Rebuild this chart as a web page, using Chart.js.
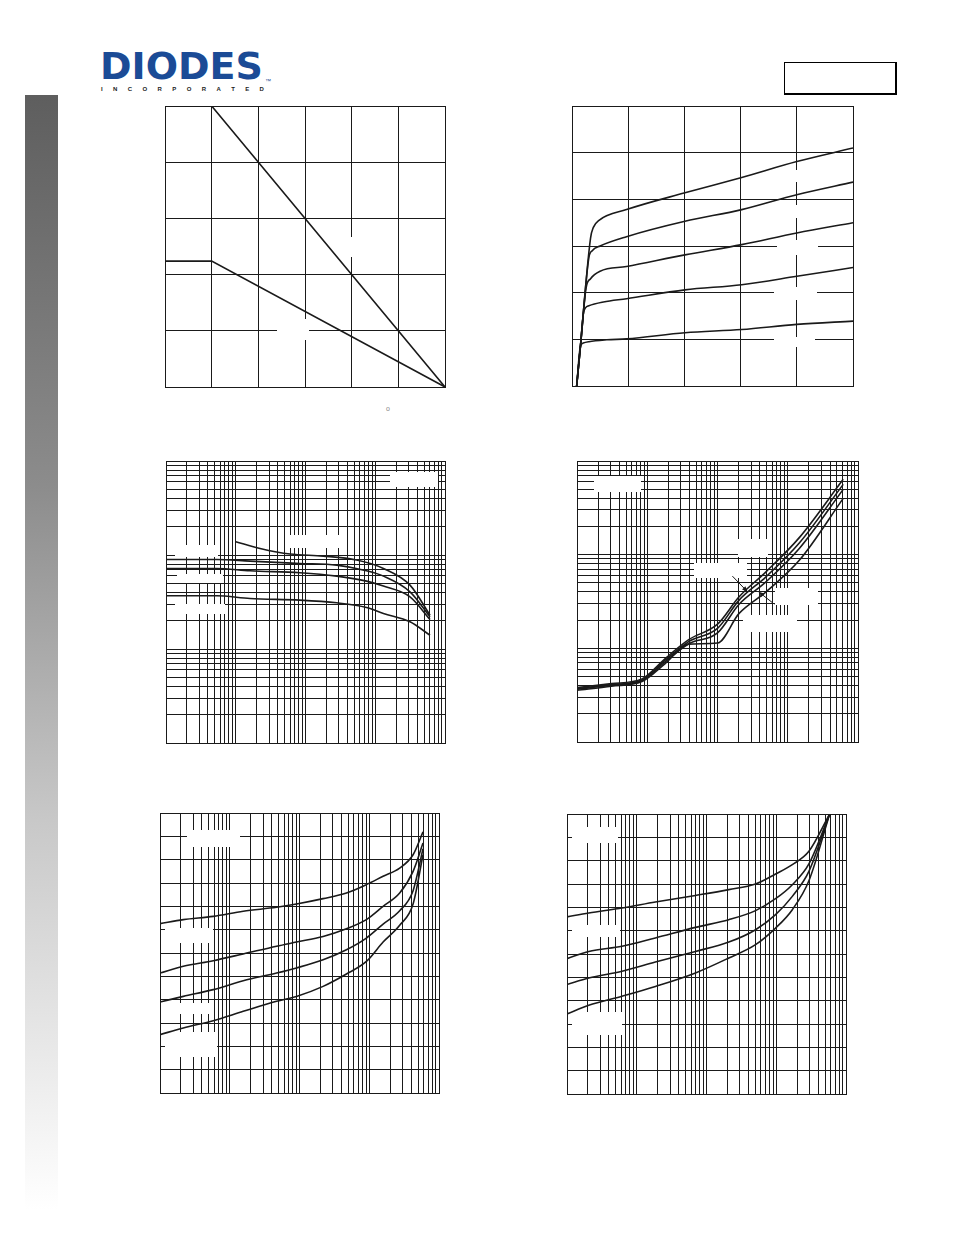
<!DOCTYPE html>
<html>
<head>
<meta charset="utf-8">
<title>Typical characteristics</title>
<script src="https://cdn.jsdelivr.net/npm/chart.js@4.4.0/dist/chart.umd.min.js"></script>
<style>
  body{margin:0;background:#fff;width:954px;height:1235px;position:relative;overflow:hidden;font-family:"Liberation Sans",Arial,sans-serif}
  .bar{position:absolute;left:25px;top:95px;width:33px;height:1115px;background:linear-gradient(#5e5e5e,#8c8c8c 35%,#c8c8c8 65%,#fff)}
  .logo{position:absolute;left:100px;top:47px;font-family:"DejaVu Sans",sans-serif;font-size:38px;line-height:38px;font-weight:bold;color:#1b4b96;letter-spacing:0}
  .tm{position:absolute;left:265px;top:78px;font-size:6px;color:#1b4b96}
  .inc{position:absolute;left:101px;top:86px;width:163px;display:flex;justify-content:space-between;font-size:6px;font-weight:bold;color:#222}
  .box{position:absolute;left:784px;top:62px;width:110px;height:30px;border:1px solid #000;border-right-width:2px;border-bottom-width:2px}
  .deg{position:absolute;left:386px;top:405px;font-size:7px;color:#888}
  .plot{position:absolute}
</style>
</head>
<body>
<div class="bar"></div>
<div class="logo">DIODES</div>
<div class="tm">™</div>
<div class="inc"><span>I</span><span>N</span><span>C</span><span>O</span><span>R</span><span>P</span><span>O</span><span>R</span><span>A</span><span>T</span><span>E</span><span>D</span></div>
<div class="box"></div>
<div class="deg">o</div>

<div class="plot" id="p1"><canvas id="c1"></canvas></div>
<div class="plot" id="p2"><canvas id="c2"></canvas></div>
<div class="plot" id="p3"><canvas id="c3"></canvas></div>
<div class="plot" id="p4"><canvas id="c4"></canvas></div>
<div class="plot" id="p5"><canvas id="c5"></canvas></div>
<div class="plot" id="p6"><canvas id="c6"></canvas></div>

<script>
// ---- chart 1: derating (linear) ----
const c1X = [0, 25, 150];
const c1A = [250, 250, 0];
const c1B = [112, 112, 0];

// ---- chart 2: output characteristics (linear) ----
const c2X1 = [0.083, 0.15, 0.33, 0.38, 0.48, 0.97, 2.01, 3.02, 4.0, 5.0];
const c2Y1 = [0, 0.85, 3.17, 3.4, 3.55, 3.78, 4.14, 4.47, 4.81, 5.1];
const c2X2 = [0.083, 0.15, 0.3, 0.36, 0.5, 0.97, 2.01, 3.02, 4.0, 5.0];
const c2Y2 = [0, 0.85, 2.75, 2.9, 3.0, 3.2, 3.53, 3.78, 4.1, 4.37];
const c2X3 = [0.083, 0.15, 0.25, 0.33, 0.5, 0.97, 2.01, 3.02, 4.0, 5.0];
const c2Y3 = [0, 0.85, 2.1, 2.3, 2.46, 2.56, 2.81, 3.03, 3.28, 3.5];
const c2X4 = [0.083, 0.15, 0.21, 0.3, 0.56, 0.97, 2.01, 3.02, 4.0, 5.0];
const c2Y4 = [0, 0.85, 1.6, 1.72, 1.8, 1.87, 2.06, 2.17, 2.35, 2.54];
const c2X5 = [0.083, 0.15, 0.2, 0.3, 0.62, 0.97, 2.01, 3.02, 4.0, 5.0];
const c2Y5 = [0, 0.85, 0.92, 0.95, 0.99, 1.01, 1.14, 1.21, 1.32, 1.39];

// ---- chart 3: gain vs current (log-log) ----
const c3XA = [1.0, 2.23, 6.0, 18, 54, 131, 315, 610];
const c3YA = [1384, 1175, 1023, 973, 883, 719, 478, 229];
const c3X = [0.1, 0.53, 1.6, 8.3, 28, 75, 131, 315, 610];
const c3YB = [897, 897, 861, 813, 780, 679, 596, 406, 220];
const c3YC = [719, 719, 679, 647, 596, 527, 467, 359, 206];
const c3YD = [368, 368, 344, 331, 310, 277, 239, 195, 140];

// ---- chart 4: saturation voltage vs current (log-log) ----
const c4X = [0.1, 0.31, 0.84, 1.8, 3.9, 10, 20.3, 49, 147, 616];
const c4Y1 = [3.81, 4.20, 4.72, 7.78, 12.4, 18.1, 35.5, 65.6, 153, 637];
const c4Y2 = [3.72, 4.10, 4.60, 7.47, 11.8, 16.3, 32.7, 58.0, 134, 563];
const c4Y3 = [3.66, 4.03, 4.53, 7.16, 11.2, 14.6, 29.6, 51.3, 117, 498];
const c4Y4 = [3.57, 3.94, 4.42, 6.88, 11.1, 11.4, 23.6, 40.1, 87.5, 399];
const c4Arrows = [[16.3, 59, 26.8, 40.1], [64.6, 29.6, 38.5, 40.1]];

// ---- chart 5: base-emitter voltage vs current (log x, linear y) ----
const c5X = [0.1, 0.216, 0.58, 1.56, 4.69, 9.06, 21.8, 47.1, 91, 158, 273, 425, 590];
const c5Y1 = [0.726, 0.743, 0.757, 0.779, 0.796, 0.810, 0.833, 0.857, 0.893, 0.929, 0.964, 1.021, 1.119];
const c5Y2 = [0.514, 0.543, 0.567, 0.596, 0.629, 0.647, 0.671, 0.704, 0.743, 0.800, 0.857, 0.950, 1.071];
const c5Y3 = [0.390, 0.414, 0.443, 0.481, 0.514, 0.536, 0.571, 0.614, 0.664, 0.724, 0.781, 0.867, 1.047];
const c5Y4 = [0.250, 0.279, 0.310, 0.350, 0.393, 0.414, 0.457, 0.510, 0.564, 0.647, 0.719, 0.810, 1.021];

// ---- chart 6: base-emitter voltage vs current (log x, linear y) ----
const c6X = [0.1, 0.205, 0.615, 1.85, 6.95, 20.9, 50.5, 97.8, 170, 294, 583];
const c6Y1 = [0.759, 0.776, 0.797, 0.823, 0.851, 0.876, 0.900, 0.943, 0.983, 1.040, 1.2];
const c6Y2 = [0.580, 0.611, 0.633, 0.669, 0.714, 0.747, 0.786, 0.837, 0.897, 0.986, 1.2];
const c6Y3 = [0.469, 0.497, 0.526, 0.566, 0.611, 0.651, 0.704, 0.769, 0.847, 0.954, 1.2];
const c6Y4 = [0.343, 0.380, 0.419, 0.461, 0.519, 0.583, 0.640, 0.711, 0.790, 0.914, 1.2];

// log grid decades
const decX = [0.1, 1, 10, 100, 1000];
const decY3 = [10, 100, 1000, 10000];
const decY4 = [1, 10, 100, 1000];

const INK = '#1a1a1a';
const PAD = 4;

// blank label panels over the grid (offset from plot corner, px): [dx, dy, w, h]
const blanks = {
  1: [[175, 131, 25, 20], [112, 213, 32, 21]],
  2: [[213, 64, 25, 12], [213, 99, 25, 13], [205, 134, 41, 15], [202, 181, 43, 13], [202, 231, 41, 10]],
  3: [[224, 11, 48, 15], [124, 74, 50, 13], [9, 84, 43, 12], [11, 113, 46, 9], [9, 143, 50, 10]],
  4: [[17, 15, 47, 16], [161, 78, 30, 18], [117, 102, 53, 15], [198, 127, 43, 17], [166, 154, 54, 17]],
  5: [[27, 17, 53, 17], [5, 115, 48, 15], [5, 190, 47, 11], [5, 219, 52, 25]],
  6: [[5, 13, 46, 16], [5, 111, 48, 12], [5, 198, 50, 23]]
};

function logTicks(decades){
  const t = [];
  decades.forEach((d, i) => {
    if(i === decades.length - 1){ t.push(d); return; }
    for(let k = 1; k < 10; k++) t.push(+(d * k).toPrecision(6));
  });
  return t;
}

function pts(xs, ys){ return xs.map((x, i) => ({x, y: ys[i]})); }

function linAxis(min, max, step){
  return { type:'linear', min, max, ticks:{display:false, stepSize:step},
    grid:{color:INK, lineWidth:1, drawTicks:false}, border:{color:INK, width:1} };
}
function logAxis(min, max, decades){
  const list = logTicks(decades);
  return { type:'logarithmic', min, max, ticks:{display:false},
    afterBuildTicks: s => { s.ticks = list.map(v => ({value:v})); },
    grid:{color:INK, lineWidth:1, drawTicks:false}, border:{color:INK, width:1} };
}

function curve(data, smooth){
  return { data, showLine:true, borderColor:INK, borderWidth:1.6, pointRadius:0,
    fill:false, tension:0, cubicInterpolationMode: smooth ? 'monotone' : 'default' };
}

const blankPlugin = {
  id:'blanks',
  beforeDatasetsDraw(chart, args, opts){
    if(!opts.list) return;
    const {ctx, chartArea:a} = chart;
    ctx.save();
    ctx.fillStyle = '#fff';
    opts.list.forEach(b => ctx.fillRect(a.left + b[0], a.top + b[1], b[2], b[3]));
    ctx.restore();
  }
};

// small arrows drawn in data units
const arrowPlugin = {
  id:'arrows',
  afterDatasetsDraw(chart, args, opts){
    if(!opts.list) return;
    const {ctx, scales:{x, y}} = chart;
    ctx.save();
    ctx.strokeStyle = INK; ctx.fillStyle = INK; ctx.lineWidth = 1;
    opts.list.forEach(a => {
      const x0 = x.getPixelForValue(a[0]), y0 = y.getPixelForValue(a[1]);
      const x1 = x.getPixelForValue(a[2]), y1 = y.getPixelForValue(a[3]);
      ctx.beginPath(); ctx.moveTo(x0, y0); ctx.lineTo(x1, y1); ctx.stroke();
      const ang = Math.atan2(y1 - y0, x1 - x0), L = 6;
      ctx.beginPath();
      ctx.moveTo(x1, y1);
      ctx.lineTo(x1 - L*Math.cos(ang - 0.4), y1 - L*Math.sin(ang - 0.4));
      ctx.lineTo(x1 - L*Math.cos(ang + 0.4), y1 - L*Math.sin(ang + 0.4));
      ctx.closePath(); ctx.fill();
    });
    ctx.restore();
  }
};
Chart.register(blankPlugin, arrowPlugin);

function make(id, box, scales, datasets, extra){
  const p = document.getElementById('p' + id);
  p.style.left = (box[0] - PAD) + 'px';
  p.style.top = (box[1] - PAD) + 'px';
  p.style.width = (box[2] - box[0] + 2*PAD) + 'px';
  p.style.height = (box[3] - box[1] + 2*PAD) + 'px';
  new Chart(document.getElementById('c' + id), {
    type:'scatter',
    data:{ datasets },
    options:{
      responsive:true, maintainAspectRatio:false, animation:false,
      layout:{ padding:PAD },
      scales,
      plugins:Object.assign({ legend:{display:false}, tooltip:{enabled:false}, blanks:{ list:blanks[id] } }, extra || {})
    }
  });
}

make(1, [165, 106, 445, 387],
  { x: linAxis(0, 150, 25), y: linAxis(0, 250, 50) },
  [curve(pts(c1X, c1A)), curve(pts(c1X, c1B))]);

make(2, [572, 106, 853, 386],
  { x: linAxis(0, 5, 1), y: linAxis(0, 6, 1) },
  [curve(pts(c2X1, c2Y1), true), curve(pts(c2X2, c2Y2), true), curve(pts(c2X3, c2Y3), true),
   curve(pts(c2X4, c2Y4), true), curve(pts(c2X5, c2Y5), true)]);

make(3, [166, 461, 445, 743],
  { x: logAxis(0.1, 1000, decX), y: logAxis(10, 10000, decY3) },
  [curve(pts(c3XA, c3YA), true), curve(pts(c3X, c3YB), true),
   curve(pts(c3X, c3YC), true), curve(pts(c3X, c3YD), true)]);

make(4, [577, 461, 858, 742],
  { x: logAxis(0.1, 1000, decX), y: logAxis(1, 1000, decY4) },
  [curve(pts(c4X, c4Y1), true), curve(pts(c4X, c4Y2), true),
   curve(pts(c4X, c4Y3), true), curve(pts(c4X, c4Y4), true)],
  { arrows:{ list:c4Arrows } });

make(5, [160, 813, 439, 1093],
  { x: logAxis(0.1, 1000, decX), y: linAxis(0, 1.2, 0.1) },
  [curve(pts(c5X, c5Y1), true), curve(pts(c5X, c5Y2), true),
   curve(pts(c5X, c5Y3), true), curve(pts(c5X, c5Y4), true)]);

make(6, [567, 814, 846, 1094],
  { x: logAxis(0.1, 1000, decX), y: linAxis(0, 1.2, 0.1) },
  [curve(pts(c6X, c6Y1), true), curve(pts(c6X, c6Y2), true),
   curve(pts(c6X, c6Y3), true), curve(pts(c6X, c6Y4), true)]);
</script>
</body>
</html>
